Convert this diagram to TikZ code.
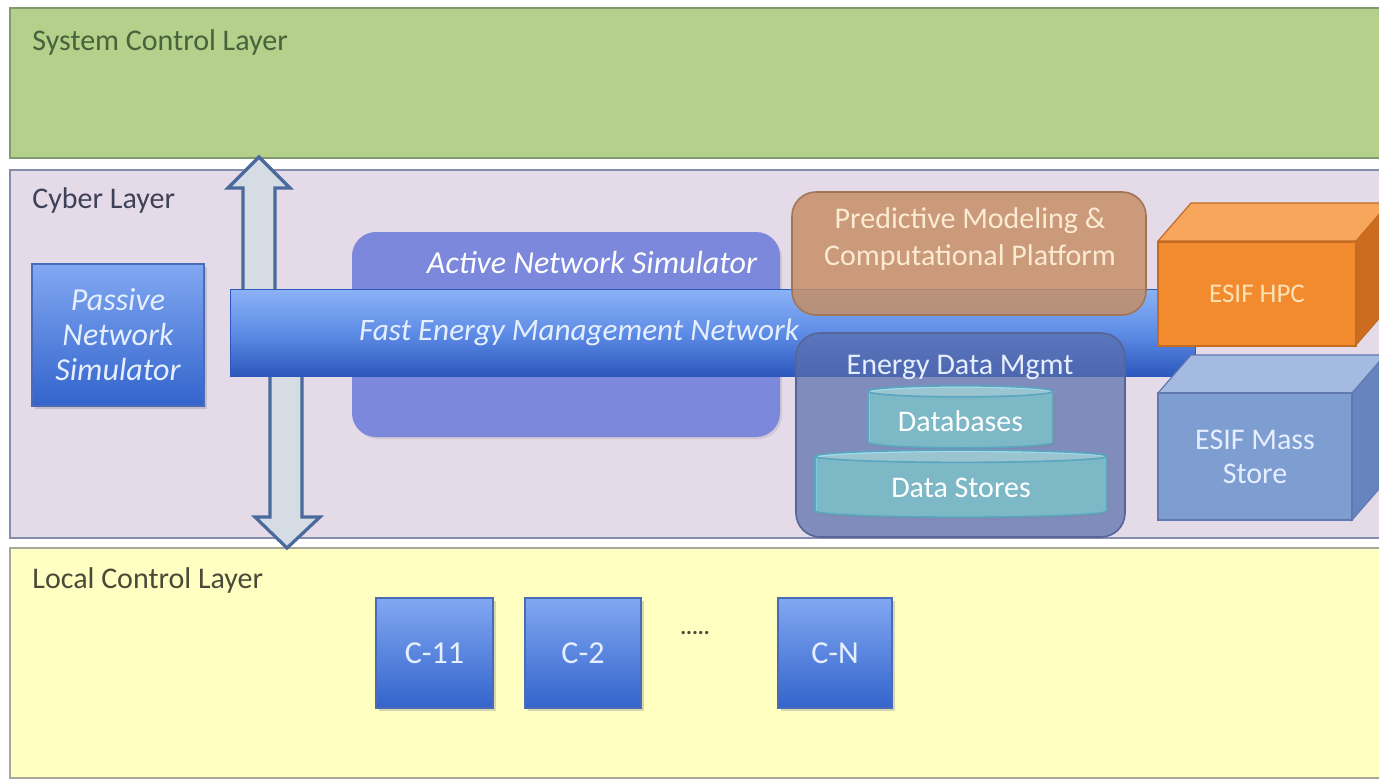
\documentclass[tikz,border=0pt]{standalone}
\usepackage{fontspec}
\setmainfont{Carlito}
\usetikzlibrary{shapes.geometric,shadows}

\definecolor{sysfill}{HTML}{B4D08A}
\definecolor{sysedge}{HTML}{7F9A70}
\definecolor{systext}{HTML}{46633C}
\definecolor{cyfill}{HTML}{E4DAE8}
\definecolor{cyedge}{HTML}{858EAE}
\definecolor{cytext}{HTML}{3E4257}
\definecolor{locfill}{HTML}{FFFFC2}
\definecolor{locedge}{HTML}{A8A898}
\definecolor{loctext}{HTML}{4A4A3A}
\definecolor{boxtop}{HTML}{82A8F2}
\definecolor{boxbot}{HTML}{3364CC}
\definecolor{boxedge}{HTML}{4A6CB8}
\definecolor{boxtext}{HTML}{E6EFFF}
\definecolor{bustop}{HTML}{8CB2F6}
\definecolor{busmid}{HTML}{5E8DE6}
\definecolor{busbot}{HTML}{2C57BC}
\definecolor{activefill}{HTML}{7B88DB}
\definecolor{predfill}{HTML}{C68D62}
\definecolor{prededge}{HTML}{A07656}
\definecolor{predtext}{HTML}{FBEBD2}
\definecolor{edmfill}{HTML}{5A6EAC}
\definecolor{edmedge}{HTML}{56649A}
\definecolor{cylbody}{HTML}{7CCCE0}
\definecolor{cyltop}{HTML}{A2DCEC}
\definecolor{cyledge}{HTML}{5AA5C0}
\definecolor{hpcfront}{HTML}{F28A2E}
\definecolor{hpctop}{HTML}{F7A65C}
\definecolor{hpcside}{HTML}{CC6C1E}
\definecolor{hpcedge}{HTML}{C46A22}
\definecolor{hpctext}{HTML}{FCE2B4}
\definecolor{msfront}{HTML}{7E9ED2}
\definecolor{mstop}{HTML}{A4BAE0}
\definecolor{msside}{HTML}{6684BE}
\definecolor{msedge}{HTML}{6079AE}
\definecolor{arrowfill}{HTML}{D6DCE4}
\definecolor{arrowedge}{HTML}{4A6A9E}

\tikzset{
  txt/.style={font=\fontsize{15}{17.5}\selectfont},
  itxt/.style={font=\fontsize{16}{17.5}\selectfont\itshape},
  layer/.style={line width=1.2pt},
  layertitle/.style={txt, anchor=west, inner sep=0pt},
  bluebox/.style={rectangle, draw=boxedge, line width=0.6pt, top color=boxtop, bottom color=boxbot,
    text=boxtext, txt, align=center,
    drop shadow={shadow xshift=1.5pt, shadow yshift=-1.5pt, opacity=0.3}},
  roundbox/.style={rectangle, rounded corners=12pt},
  cyl/.style={cylinder, shape border rotate=90, aspect=0.08, draw=cyledge, line width=0.8pt,
    cylinder uses custom fill, cylinder body fill=cylbody, cylinder end fill=cyltop,
    text=white, txt, drop shadow={shadow xshift=1pt, shadow yshift=-1pt, opacity=0.25}},
  blockarrow/.style={fill=arrowfill, draw=arrowedge, line width=1.6pt, line join=miter},
}

\begin{document}
\begin{tikzpicture}[x=0.5pt, y=-0.5pt]
\useasboundingbox (0,0) rectangle (1379,782);
\clip (0,0) rectangle (1379,782);
\fill[white] (0,0) rectangle (1379,782);

% ---------- the three layers ----------
\draw[layer, fill=sysfill, draw=sysedge] (10,8) rectangle (1400,158);
\node[layertitle, text=systext] (systitle) at (32,42) {System Control Layer};

\draw[layer, fill=cyfill, draw=cyedge] (10,170) rectangle (1400,538);
\node[layertitle, text=cytext] (cytitle) at (32,200) {Cyber Layer};

\draw[layer, fill=locfill, draw=locedge] (10,548) rectangle (1400,778);
\node[layertitle, text=loctext] (loctitle) at (32,580) {Local Control Layer};

% ---------- vertical link between the layers ----------
\draw[blockarrow] (243,292) -- (243,188) -- (228,188) -- (259,157) -- (290,188) -- (275,188) -- (275,292) -- cycle;
\draw[blockarrow] (270,374) -- (270,517) -- (255,517) -- (287,548) -- (320,517) -- (302,517) -- (302,374) -- cycle;

% ---------- passive simulator ----------
\node[bluebox, minimum width=86pt, minimum height=71pt, itxt] (passive) at (118,335)
  {Passive\\Network\\Simulator};

% ---------- active simulator, behind the bus ----------
\node[roundbox, fill=activefill, minimum width=214pt, minimum height=102.5pt,
  drop shadow={shadow xshift=1pt, shadow yshift=-1pt, opacity=0.2}] (active) at (566,334.5) {};
\node[itxt, text=white] (activelbl) at (592,263) {Active Network Simulator};

% ---------- fast energy management bus ----------
\node[rectangle, minimum width=482.5pt, minimum height=43.5pt, draw=busbot, line width=0.5pt,
  top color=bustop, bottom color=busbot, middle color=busmid] (bus) at (712.5,332.5) {};
\node[text=boxtext, font=\fontsize{15.6}{17.5}\selectfont\itshape] (buslbl) at (579,332) {Fast Energy Management Network};

% ---------- predictive modeling platform ----------
\node[roundbox, fill=predfill, fill opacity=0.82, draw=prededge, line width=0.8pt,
  minimum width=177pt, minimum height=61.5pt] (pred) at (969,253.5) {};
\node[text=predtext, align=center, font=\fontsize{15}{18.5}\selectfont] (predlbl) at (970,239) {Predictive Modeling \&\\Computational Platform};

% ---------- energy data management ----------
\node[roundbox, fill=edmfill, fill opacity=0.72, draw=edmedge, line width=0.8pt,
  minimum width=164.5pt, minimum height=102pt] (edm) at (960.5,435) {};
\node[txt, text=boxtext] (edmlbl) at (960,367) {Energy Data Mgmt};

\node[cyl, minimum width=92.5pt, minimum height=31pt] (db) at (960.5,421) {Databases};
\node[cyl, minimum width=146pt, minimum height=33.5pt] (ds) at (961,488) {Data Stores};

% ---------- ESIF HPC block ----------
\fill[hpctop, draw=hpcedge, line width=0.6pt] (1158,241) -- (1191,203) -- (1420,203) -- (1389,241) -- cycle;
\fill[hpcside, draw=hpcedge, line width=0.6pt] (1356,241) -- (1389,203) -- (1389,307) -- (1356,345) -- cycle;
\node[rectangle, fill=hpcfront, draw=hpcedge, line width=0.6pt, minimum width=99pt, minimum height=52pt,
  text=hpctext, font=\fontsize{13.5}{16}\selectfont] (hpc) at (1257,294) {ESIF HPC};

% ---------- ESIF mass store block ----------
\fill[mstop, draw=msedge, line width=0.6pt] (1158,393) -- (1191,355) -- (1420,355) -- (1385,393) -- cycle;
\fill[msside, draw=msedge, line width=0.6pt] (1352,393) -- (1385,355) -- (1385,482) -- (1352,520) -- cycle;
\node[rectangle, fill=msfront, draw=msedge, line width=0.6pt, minimum width=97pt, minimum height=63.5pt,
  text=boxtext, align=center, font=\fontsize{15}{17}\selectfont] (mass) at (1255,456.5) {ESIF Mass\\Store};

% ---------- local controllers ----------
\node[bluebox, minimum width=58.5pt, minimum height=55pt, font=\fontsize{16}{18}\selectfont] (c11) at (434.5,653) {C-11};
\node[bluebox, minimum width=58pt, minimum height=55pt, font=\fontsize{16}{18}\selectfont] (c2) at (583,653) {C-2};
\node[text=loctext, font=\fontsize{11}{12}\selectfont\bfseries] (dots) at (695,633) {.....};
\node[bluebox, minimum width=57pt, minimum height=55pt, font=\fontsize{16}{18}\selectfont] (cn) at (835,653) {C-N};
\end{tikzpicture}
\end{document}
